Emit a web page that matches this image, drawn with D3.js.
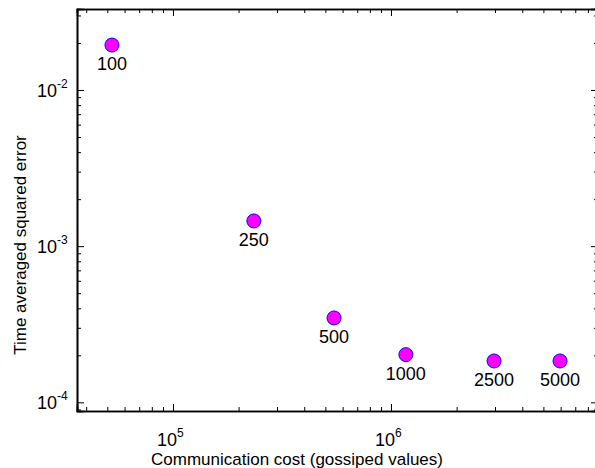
<!DOCTYPE html>
<html>
<head>
<meta charset="utf-8">
<script src="https://cdn.jsdelivr.net/npm/d3@7"></script>
<style>
  body { margin: 0; background: #fff; }
  svg { font-family: "Liberation Sans", Arial, sans-serif; }
  .axis path { stroke: #000; stroke-width: 1.6; }
  .axis line { stroke: #000; stroke-width: 1; }
</style>
</head>
<body>
<svg id="chart" width="595" height="468"></svg>
<script>
// data
var labels = ["100", "250", "500", "1000", "2500", "5000"];
var cost = [52500, 235000, 548000, 1170000, 2970000, 5960000];
var error = [0.0194, 0.00145, 0.000347, 0.000202, 0.000184, 0.000184];

var xMajor = [1e5, 1e6];
var yMajor = [1e-4, 1e-3, 1e-2];

var svg = d3.select("#chart");

var plot = {left: 77, right: 598, top: 9, bottom: 411};

var x = d3.scaleLog().domain([3.63e4, 8.9e6]).range([plot.left, plot.right]);
var y = d3.scaleLog().domain([8.8e-5, 0.033]).range([plot.bottom, plot.top]);

// minor ticks 2..9 in each decade
function minors(scale) {
  var d = scale.domain(), out = [];
  var lo = Math.floor(Math.log10(d[0])), hi = Math.ceil(Math.log10(d[1]));
  for (var e = lo; e < hi; e++) {
    for (var m = 2; m <= 9; m++) {
      var v = m * Math.pow(10, e);
      if (v >= d[0] && v <= d[1]) out.push(v);
    }
  }
  return out;
}

function expo(v) { return Math.round(Math.log10(v)); }

// -------- axes (ticks point inward, mirrored on all sides) --------
svg.append("g").attr("class", "axis")
    .attr("transform", "translate(0," + plot.bottom + ")")
    .call(d3.axisBottom(x).tickValues(minors(x)).tickSize(-4).tickFormat(""));
svg.append("g").attr("class", "axis")
    .attr("transform", "translate(0," + plot.bottom + ")")
    .call(d3.axisBottom(x).tickValues(xMajor).tickSize(-7).tickFormat(""));

svg.append("g").attr("class", "axis")
    .attr("transform", "translate(0," + plot.top + ")")
    .call(d3.axisTop(x).tickValues(minors(x)).tickSize(-4).tickFormat(""));
svg.append("g").attr("class", "axis")
    .attr("transform", "translate(0," + plot.top + ")")
    .call(d3.axisTop(x).tickValues(xMajor).tickSize(-7).tickFormat(""));

svg.append("g").attr("class", "axis")
    .attr("transform", "translate(" + plot.left + ",0)")
    .call(d3.axisLeft(y).tickValues(minors(y)).tickSize(-4).tickFormat(""));
svg.append("g").attr("class", "axis")
    .attr("transform", "translate(" + plot.left + ",0)")
    .call(d3.axisLeft(y).tickValues(yMajor).tickSize(-7).tickFormat(""));

svg.append("g").attr("class", "axis")
    .attr("transform", "translate(" + plot.right + ",0)")
    .call(d3.axisRight(y).tickValues(minors(y)).tickSize(-4).tickFormat(""));
svg.append("g").attr("class", "axis")
    .attr("transform", "translate(" + plot.right + ",0)")
    .call(d3.axisRight(y).tickValues(yMajor).tickSize(-7).tickFormat(""));

// power-of-ten tick labels
xMajor.forEach(function(v) {
  var t = svg.append("text")
      .attr("x", x(v) - 16).attr("y", plot.bottom + 35)
      .attr("font-size", 18);
  t.append("tspan").text("10");
  t.append("tspan").attr("font-size", 12).attr("dy", -9).text(expo(v));
});

yMajor.forEach(function(v) {
  var t = svg.append("text")
      .attr("x", plot.left - 40).attr("y", y(v) + 7)
      .attr("font-size", 18);
  t.append("tspan").text("10");
  t.append("tspan").attr("font-size", 12).attr("dy", -9).text(expo(v));
});

// axis titles
svg.append("text")
    .attr("x", 297).attr("y", 465)
    .attr("text-anchor", "middle").attr("font-size", 17)
    .text("Communication cost (gossiped values)");

svg.append("text")
    .attr("transform", "translate(26,245) rotate(-90)")
    .attr("text-anchor", "middle").attr("font-size", 17)
    .text("Time averaged squared error");

// -------- points + labels --------
var pts = svg.append("g");
pts.selectAll("circle")
    .data(cost)
    .enter().append("circle")
    .attr("cx", function(d) { return x(d); })
    .attr("cy", function(d, i) { return y(error[i]); })
    .attr("r", 7)
    .attr("fill", "#ff00ff")
    .attr("stroke", "#0000ff")
    .attr("stroke-width", 1);

pts.selectAll("text")
    .data(cost)
    .enter().append("text")
    .attr("x", function(d) { return x(d); })
    .attr("y", function(d, i) { return y(error[i]) + 25; })
    .attr("text-anchor", "middle")
    .attr("font-size", 18)
    .text(function(d, i) { return labels[i]; });
</script>
</body>
</html>
